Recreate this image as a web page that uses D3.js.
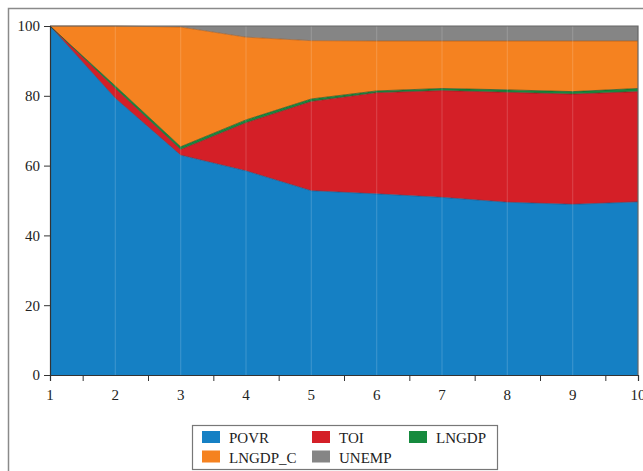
<!DOCTYPE html>
<html><head><meta charset="utf-8">
<script src="https://cdn.jsdelivr.net/npm/d3@7"></script>
<style>body{margin:0;background:#fff;} svg{display:block;}</style>
</head><body>
<svg id="c" width="643" height="471"></svg>
<script>
const periods = [1,2,3,4,5,6,7,8,9,10];
const POVR    = [100, 79.3, 63.0, 58.5, 52.8, 51.9, 50.9, 49.5, 48.9, 49.6];
const TOI     = [0,   2.8,  1.6, 13.8, 25.6, 29.0, 30.6, 31.5, 31.6, 31.6];
const LNGDP   = [0,   0.7,  0.8,  0.8,  0.7,  0.5,  0.6,  0.7,  0.7,  0.9];
const LNGDP_C = [0,  17.2, 34.3, 23.7, 16.7, 14.3, 13.6, 14.0, 14.5, 13.6];
const UNEMP   = [0,   0.0,  0.3,  3.2,  4.2,  4.3,  4.3,  4.3,  4.3,  4.3];
const seriesNames = ["POVR","TOI","LNGDP","LNGDP_C","UNEMP"];
const yTicks = [0,20,40,60,80,100];

const colors = {POVR:"#1580c4", TOI:"#d41f27", LNGDP:"#168a3e", LNGDP_C:"#f58220", UNEMP:"#858585"};
const strokes = {POVR:"#1d4f7a", TOI:"#7a1a1e", LNGDP:"#0c4d22", LNGDP_C:"#a85a1a", UNEMP:"#555"};

const table = periods.map((p,i)=>({p, POVR:POVR[i], TOI:TOI[i], LNGDP:LNGDP[i], LNGDP_C:LNGDP_C[i], UNEMP:UNEMP[i]}));
const stack = d3.stack().keys(seriesNames)(table);

const svg = d3.select("#c");
const L=50, R=638, T=26, B=375;
const x = d3.scaleLinear().domain([1,10]).range([L,R]);
const y = d3.scaleLinear().domain([0,100]).range([B,T]);

// outer frame
svg.append("path").attr("d","M8.5,471 L8.5,8.5 L643,8.5").attr("fill","none").attr("stroke","#8a8a8a").attr("stroke-width",1.5);

const area = d3.area().x(d=>x(d.data.p)).y0(d=>y(d[0])).y1(d=>y(d[1]));
const g = svg.append("g");
stack.forEach(s=>{
  g.append("path").attr("d",area(s)).attr("fill",colors[s.key]);
});
stack.forEach(s=>{
  const line = d3.line().x(d=>x(d.data.p)).y(d=>y(d[1]));
  if (s.key!=="UNEMP")
    g.append("path").attr("d",line(s)).attr("fill","none").attr("stroke",strokes[s.key]).attr("stroke-width",0.8).attr("stroke-opacity",0.8);
});
// faint vertical grid
periods.slice(1,-1).forEach(p=>{
  g.append("line").attr("x1",x(p)).attr("x2",x(p)).attr("y1",T).attr("y2",B).attr("stroke","#ffffff").attr("stroke-opacity",0.15).attr("stroke-width",1.2);
});
// plot frame
svg.append("path").attr("d",`M${L},${T} L${R},${T} L${R},${B}`).attr("fill","none").attr("stroke","#666").attr("stroke-width",1.2);

// axes
const yAxis = d3.axisLeft(y).tickValues(yTicks).tickSize(6).tickPadding(4);
const ya = svg.append("g").attr("transform",`translate(${L},0)`).call(yAxis);
const midTicks = periods.slice(0,-1).map(p=>p+0.5);
const xAxis = d3.axisBottom(x).tickValues(midTicks).tickSize(6).tickFormat("");
const xa = svg.append("g").attr("transform",`translate(0,${B})`).call(xAxis);
[ya,xa].forEach(a=>{
  a.select(".domain").attr("stroke","#333").attr("stroke-width",1.2);
  a.selectAll(".tick line").attr("stroke","#333").attr("stroke-width",1);
});
ya.selectAll("text").attr("font-family","Liberation Serif, serif").attr("font-size",15).attr("fill","#222");
periods.forEach(p=>{
  svg.append("text").attr("x",x(p)).attr("y",400).attr("text-anchor","middle")
    .attr("font-family","Liberation Serif, serif").attr("font-size",15).attr("fill","#222").text(p);
});

// legend
const lg = svg.append("g");
lg.append("rect").attr("x",192.5).attr("y",425.5).attr("width",305).attr("height",44).attr("fill","#fff").attr("stroke","#777").attr("stroke-width",1.2);
const legendPos = [
  {k:"POVR", sx:202, row:0}, {k:"TOI", sx:312, row:0}, {k:"LNGDP", sx:409, row:0},
  {k:"LNGDP_C", sx:202, row:1}, {k:"UNEMP", sx:312, row:1}
];
legendPos.forEach(o=>{
  const yy = 431 + o.row*19.5;
  lg.append("rect").attr("x",o.sx).attr("y",yy).attr("width",18).attr("height",12).attr("fill",colors[o.k]);
  lg.append("text").attr("x",o.sx+27).attr("y",yy+12).attr("font-family","Liberation Serif, serif")
    .attr("font-size",15).attr("fill","#222").text(o.k);
});
</script>
</body></html>
